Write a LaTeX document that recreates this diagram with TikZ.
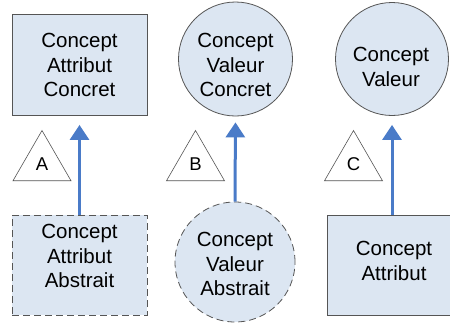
\documentclass[tikz,border=0pt]{standalone}
\usepackage{fontspec}
\setmainfont{Liberation Sans}
\usetikzlibrary{arrows.meta,shapes.geometric}
\definecolor{fillc}{HTML}{DCE6F2}
\definecolor{linec}{HTML}{555555}
\definecolor{arrc}{HTML}{4A7BC8}
\begin{document}
\begin{tikzpicture}[x=1pt,y=-1pt,
  concept/.style={fill=fillc, draw=linec, line width=0.8pt, inner sep=0pt},
  boxc/.style={concept, rectangle, minimum width=135pt, minimum height=101pt},
  circc/.style={concept, circle},
  lbl/.style={align=center, inner sep=0pt, font=\fontsize{20.5}{24.7}\selectfont},
  abstr/.style={dash pattern=on 7pt off 4pt},
  tri/.style={regular polygon, regular polygon sides=3, draw=linec, fill=white, line width=0.6pt,
    minimum size=67pt, inner sep=0pt, font=\fontsize{18.5}{20}\selectfont},
  isa/.style={draw=arrc, line width=3pt, -{Triangle[length=15pt,width=19pt]}}]
\useasboundingbox (0,0) rectangle (450,322);
\fill[white] (0,0) rectangle (450,322);
% column A
\node[boxc] (A1) at (79.5,65) {};
\node[lbl] (A1t) at (79.5,65) {Concept\\Attribut\\Concret};
\node[boxc, abstr, minimum height=100pt] (A2) at (79.5,265) {};
\node[lbl] (A2t) at (79.5,256) {Concept\\Attribut\\Abstrait};
\node[tri] (TA) at (42,164) {A};
% column B
\node[circc, minimum size=114pt] (B1) at (235.5,59) {};
\node[lbl] (B1t) at (235.5,65) {Concept\\Valeur\\Concret};
\node[circc, abstr, minimum size=120pt] (B2) at (235,262) {};
\node[lbl] (B2t) at (235,264) {Concept\\Valeur\\Abstrait};
\node[tri] (TB) at (195.5,164) {B};
% column C
\node[circc, minimum size=113pt] (C1) at (392,59) {};
\node[lbl] (C1t) at (391,67) {Concept\\Valeur};
\node[boxc, minimum width=140pt, minimum height=100pt] (C2) at (397,265) {};
\node[lbl] (C2t) at (394,261) {Concept\\Attribut};
\node[tri] (TC) at (353.5,164) {C};
% arrows
\draw[isa, shorten >=9pt] (A2.north) -- (A2.north |- A1.south);
\draw[isa, shorten >=6pt] (B2.north) -- (B1.south);
\draw[isa, shorten >=9pt] (C1.south |- C2.north) -- (C1.south);
\end{tikzpicture}
\end{document}
